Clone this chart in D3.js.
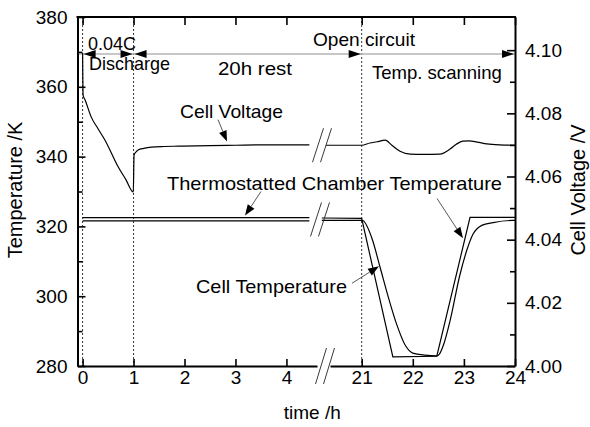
<!DOCTYPE html>
<html>
<head>
<meta charset="utf-8">
<script src="https://cdn.jsdelivr.net/npm/d3@7"></script>
<style>
  body { margin: 0; background: #fff; }
  svg { display: block; font-family: "Liberation Sans", Arial, sans-serif; }
</style>
</head>
<body>
<svg id="chart" width="590" height="427"></svg>
<script>
// ---------------- DATA ----------------
// Cell voltage, first segment (time h, V)
const voltTime1 = [0, 0.01, 0.05, 0.17, 0.3, 0.44, 0.7, 0.85, 0.995, 1.01, 1.05, 1.09, 1.2, 1.35, 1.6, 1.88, 2.5, 3.0, 3.5, 4.0, 4.45];
const voltValue1 = [4.0991, 4.0858, 4.0842, 4.0788, 4.0752, 4.0715, 4.0630, 4.0590, 4.0551, 4.0668, 4.0678, 4.0684, 4.0689, 4.0693, 4.0695, 4.0696, 4.0698, 4.0699, 4.0700, 4.0700, 4.0700];
// Cell voltage, second segment
const voltTime2 = [20.3, 21.0, 21.16, 21.3, 21.46, 21.59, 21.75, 21.95, 22.2, 22.53, 22.73, 22.85, 22.98, 23.1, 23.26, 23.45, 23.7, 24.0];
const voltValue2 = [4.0699, 4.0699, 4.0706, 4.0710, 4.0715, 4.0699, 4.0680, 4.0671, 4.0670, 4.0671, 4.0687, 4.0702, 4.0712, 4.0713, 4.0709, 4.0703, 4.0700, 4.0699];
// Thermostatted chamber temperature (K)
const chamberTime1 = [0, 1, 2, 3, 4, 4.45];
const chamberValue1 = [322.5, 322.5, 322.5, 322.5, 322.5, 322.5];
const chamberTime2 = [20.22, 21.0, 21.61, 22.47, 23.12, 24.0];
const chamberValue2 = [322.4, 322.3, 282.6, 282.8, 322.6, 322.6];
// Cell temperature (K)
const cellTime1 = [0, 1, 2, 3, 4, 4.45];
const cellValue1 = [321.6, 321.6, 321.6, 321.6, 321.6, 321.6];
const cellTime2 = [20.22, 21.0, 21.03, 21.2, 21.36, 21.51, 21.69, 21.85, 22.0, 22.24, 22.47, 22.52, 22.6, 22.73, 22.92, 23.06, 23.18, 23.35, 23.57, 23.94, 24.0];
const cellValue2 = [321.7, 321.7, 321.6, 316.6, 308.3, 300.3, 291.7, 286.0, 283.7, 283.1, 282.9, 283.4, 286.0, 293.0, 306.0, 313.3, 317.8, 320.3, 321.1, 321.7, 321.7];

// Ticks
const timeTicks1 = [0, 1, 2, 3, 4];
const timeTicks2 = [21, 22, 23, 24];
const tempTicks = [280, 300, 320, 340, 360, 380];
const tempMinor = [290, 310, 330, 350, 370];
const voltTicks = [4.00, 4.02, 4.04, 4.06, 4.08, 4.10];
const voltMinor = [4.01, 4.03, 4.05, 4.07, 4.09];
const phaseLines = [0, 1, 21];

// Annotations (text, time h, temperature K)
const phaseArrowLevel = 369.4;
const phaseArrows = [[0, -1], [1, 1], [1, -1], [21, 1], [24, 1]];
const labels = [
  ["0.04C", 0.106, 370.6],
  ["Discharge", 0.126, 364.9],
  ["20h rest", 2.657, 363.4],
  ["Open circuit", 4.521, 371.7],
  ["Temp. scanning", 21.20, 362.3],
  ["Cell Voltage", 1.911, 351.1],
  ["Thermostatted Chamber Temperature", 1.656, 330.3],
  ["Cell Temperature", 2.225, 300.9]
];
const pointers = [
  [2.657, 350.6, 2.834, 344.3],
  [3.501, 330.0, 3.187, 323.1],
  [22.474, 328.0, 22.983, 316.6],
  [20.81, 303.7, 21.339, 308.6]
];
// rendered widths of the annotation texts (style)
const labelWidths = [48, 81, 74, 102, 130, 103, 335, 151];

// ---------------- SCALES ----------------
const svg = d3.select("#chart");
const plotTop = 17, plotBottom = 366;
const xL = d3.scaleLinear().domain([-0.1, 4.6]).range([77.5, 317]);
const xR = d3.scaleLinear().domain([20.38, 24]).range([330, 515]);
const px = t => (t <= 4.6 ? xL(t) : xR(t));
const yT = d3.scaleLinear().domain([280, 380]).range([plotBottom, plotTop]);
const yV = d3.scaleLinear().domain([4.0, 4.1105]).range([plotBottom, plotTop]);
const leftX = xL.range()[0], rightX = xR.range()[1];

const FS = 19;

// ---------------- PHASE LINES ----------------
svg.append("g").selectAll("line").data(phaseLines).join("line")
  .attr("x1", d => px(d)).attr("x2", d => px(d))
  .attr("y1", plotTop).attr("y2", plotBottom)
  .attr("stroke", "#333").attr("stroke-width", 1).attr("stroke-dasharray", "2,2");

// gray phase arrow line
svg.append("line").attr("x1", leftX).attr("x2", rightX)
  .attr("y1", yT(phaseArrowLevel)).attr("y2", yT(phaseArrowLevel))
  .attr("stroke", "#b5b5b5").attr("stroke-width", 1.3);
svg.append("g").selectAll("path").data(phaseArrows).join("path")
  .attr("d", d => {
    const x = px(d[0]) + (d[1] < 0 ? 1 : -1), y = yT(phaseArrowLevel);
    const L = 12 * -d[1], h = 4;
    return `M${x},${y}L${x + L},${y - h}L${x + L},${y + h}Z`;
  })
  .attr("fill", "#000");

// ---------------- DATA LINES ----------------
const zip = (a, b) => a.map((v, i) => [v, b[i]]);
const lineV = d3.line().x(d => px(d[0])).y(d => yV(d[1])).curve(d3.curveMonotoneX);
const lineT = d3.line().x(d => px(d[0])).y(d => yT(d[1])).curve(d3.curveMonotoneX);
const lineTlin = d3.line().x(d => px(d[0])).y(d => yT(d[1]));

const gData = svg.append("g").attr("fill", "none").attr("stroke", "#000").attr("stroke-width", 1.2);
gData.append("path").attr("d", lineV(zip(voltTime1, voltValue1)));
gData.append("path").attr("d", lineV(zip(voltTime2, voltValue2)));
gData.append("path").attr("d", lineTlin(zip(chamberTime1, chamberValue1)));
gData.append("path").attr("d", lineTlin(zip(chamberTime2, chamberValue2)));
gData.append("path").attr("d", lineT(zip(cellTime1, cellValue1)));
gData.append("path").attr("d", lineT(zip(cellTime2, cellValue2)));

// ---------------- BREAK MARKS ----------------
const breakX = (xL.range()[1] + xR.range()[0]) / 2;
const slash = (cx, cy, hh) => [[cx - 9, cy + hh, cx + 2, cy - hh], [cx - 1, cy + hh, cx + 10, cy - hh]];
const breaks = [
  ...slash(breakX - 2, yV(4.0699), 17),
  ...slash(breakX - 4, yT(322), 17),
  ...slash(breakX + 1, plotBottom, 18)
];
svg.append("g").selectAll("line").data(breaks).join("line")
  .attr("x1", d => d[0]).attr("y1", d => d[1]).attr("x2", d => d[2]).attr("y2", d => d[3])
  .attr("stroke", "#222").attr("stroke-width", 0.9);

// ---------------- AXES ----------------
function styleAxis(g) {
  g.selectAll("path.domain").attr("stroke", "#000").attr("stroke-width", 2);
  g.selectAll(".tick line").attr("stroke", "#000").attr("stroke-width", 1.6);
  g.selectAll(".tick text").attr("fill", "#000").style("font-size", FS + "px")
    .style("font-family", '"Liberation Sans", Arial, sans-serif');
}
// bottom + top
[[xL, timeTicks1], [xR, timeTicks2]].forEach(([s, tv]) => {
  svg.append("g").attr("transform", `translate(0,${plotBottom})`)
    .call(d3.axisBottom(s).tickValues(tv).tickSize(-7).tickSizeOuter(0).tickPadding(5).tickFormat(d3.format("d")))
    .call(styleAxis);
  svg.append("g").attr("transform", `translate(0,${plotTop})`)
    .call(d3.axisTop(s).tickValues(tv).tickSize(-8).tickSizeOuter(0).tickFormat(""))
    .call(g => g.select(".domain").remove())
    .call(styleAxis);
});
svg.append("line").attr("x1", leftX - 1).attr("x2", rightX + 1).attr("y1", plotTop).attr("y2", plotTop)
  .attr("stroke", "#000").attr("stroke-width", 2);
// left
svg.append("g").attr("transform", `translate(${leftX},0)`)
  .call(d3.axisLeft(yT).tickValues(tempTicks).tickSize(-8).tickSizeOuter(0).tickPadding(10))
  .call(styleAxis);
svg.append("g").attr("transform", `translate(${leftX},0)`)
  .call(d3.axisLeft(yT).tickValues(tempMinor).tickSize(-5).tickSizeOuter(0).tickFormat(""))
  .call(g => g.select(".domain").remove()).call(styleAxis);
// right
svg.append("g").attr("transform", `translate(${rightX},0)`)
  .call(d3.axisRight(yV).tickValues(voltTicks).tickSize(-8).tickSizeOuter(0).tickPadding(10).tickFormat(d3.format(".2f")))
  .call(styleAxis);
svg.append("g").attr("transform", `translate(${rightX},0)`)
  .call(d3.axisRight(yV).tickValues(voltMinor).tickSize(-5).tickSizeOuter(0).tickFormat(""))
  .call(g => g.select(".domain").remove()).call(styleAxis);

// axis titles
svg.append("text").attr("transform", `translate(22,190) rotate(-90)`)
  .attr("text-anchor", "middle").style("font-size", "20px").text("Temperature /K");
svg.append("text").attr("transform", `translate(585,190) rotate(-90)`)
  .attr("text-anchor", "middle").style("font-size", "20px").text("Cell Voltage /V");
svg.append("text").attr("x", (leftX + rightX) / 2 + 16).attr("y", 419)
  .attr("text-anchor", "middle").style("font-size", FS + "px").text("time /h");

// ---------------- ANNOTATIONS ----------------
svg.append("g").selectAll("text").data(labels).join("text")
  .attr("x", d => px(d[1])).attr("y", d => yT(d[2]))
  .attr("textLength", (d, i) => labelWidths[i]).attr("lengthAdjust", "spacingAndGlyphs")
  .style("font-size", FS + "px").attr("fill", "#000").text(d => d[0]);

const gp = svg.append("g");
pointers.forEach(p => {
  const x1 = px(p[0]), y1 = yT(p[1]), x2 = px(p[2]), y2 = yT(p[3]);
  const a = Math.atan2(y2 - y1, x2 - x1), L = 11, h = 4;
  const bx = x2 - L * Math.cos(a), by = y2 - L * Math.sin(a);
  gp.append("line").attr("x1", x1).attr("y1", y1).attr("x2", bx).attr("y2", by)
    .attr("stroke", "#444").attr("stroke-width", 0.9);
  gp.append("path").attr("fill", "#000")
    .attr("d", `M${x2},${y2}L${bx + h * Math.sin(a)},${by - h * Math.cos(a)}L${bx - h * Math.sin(a)},${by + h * Math.cos(a)}Z`);
});
</script>
</body>
</html>
